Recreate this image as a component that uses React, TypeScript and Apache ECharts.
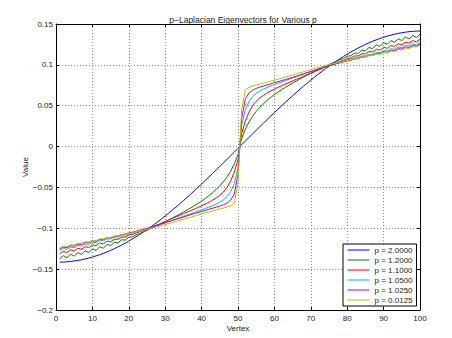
import React, { useEffect, useRef } from "react";
import * as echarts from "echarts";

const TITLE = "p\u2212Laplacian Eigenvectors for Various p";
const X_NAME = "Vertex";
const Y_NAME = "Value";
const SERIES_NAMES = ["p = 2.0000", "p = 1.2000", "p = 1.1000", "p = 1.0500", "p = 1.0250", "p = 0.0125"];
const COLORS = ["#0000ff", "#008000", "#ff0000", "#00bfbf", "#bf00bf", "#bfbf00"];
const X_MIN = 0, X_MAX = 100, X_STEP = 10;
const Y_MIN = -0.2, Y_MAX = 0.15, Y_STEP = 0.05;

const P_2_0000 = [
  -0.1414, -0.1413, -0.1410, -0.1406, -0.1400, -0.1393, -0.1385, -0.1375, -0.1364, -0.1352,
  -0.1338, -0.1323, -0.1307, -0.1289, -0.1270, -0.1250, -0.1228, -0.1206, -0.1182, -0.1157,
  -0.1131, -0.1104, -0.1075, -0.1046, -0.1016, -0.0984, -0.0952, -0.0918, -0.0884, -0.0849,
  -0.0813, -0.0776, -0.0739, -0.0701, -0.0662, -0.0622, -0.0582, -0.0541, -0.0500, -0.0458,
  -0.0416, -0.0373, -0.0330, -0.0287, -0.0243, -0.0199, -0.0155, -0.0111, -0.0067, -0.0022,
  0.0022, 0.0067, 0.0111, 0.0155, 0.0199, 0.0243, 0.0287, 0.0330, 0.0373, 0.0416,
  0.0458, 0.0500, 0.0541, 0.0582, 0.0622, 0.0662, 0.0701, 0.0739, 0.0776, 0.0813,
  0.0849, 0.0884, 0.0918, 0.0952, 0.0984, 0.1016, 0.1046, 0.1075, 0.1104, 0.1131,
  0.1157, 0.1182, 0.1206, 0.1228, 0.1250, 0.1270, 0.1289, 0.1307, 0.1323, 0.1338,
  0.1352, 0.1364, 0.1375, 0.1385, 0.1393, 0.1400, 0.1406, 0.1410, 0.1413, 0.1414,
];

const P_1_2000 = [
  -0.1375, -0.1334, -0.1360, -0.1317, -0.1341, -0.1297, -0.1320, -0.1275, -0.1297, -0.1251,
  -0.1272, -0.1225, -0.1245, -0.1198, -0.1213, -0.1171, -0.1180, -0.1141, -0.1144, -0.1110,
  -0.1107, -0.1077, -0.1067, -0.1041, -0.1025, -0.1004, -0.0983, -0.0962, -0.0940, -0.0918,
  -0.0896, -0.0873, -0.0850, -0.0826, -0.0802, -0.0777, -0.0751, -0.0724, -0.0696, -0.0667,
  -0.0636, -0.0602, -0.0565, -0.0525, -0.0480, -0.0430, -0.0370, -0.0300, -0.0210, -0.0100,
  0.0100, 0.0210, 0.0300, 0.0370, 0.0430, 0.0480, 0.0525, 0.0565, 0.0602, 0.0636,
  0.0667, 0.0696, 0.0724, 0.0751, 0.0777, 0.0802, 0.0826, 0.0850, 0.0873, 0.0896,
  0.0918, 0.0940, 0.0962, 0.0983, 0.1004, 0.1025, 0.1041, 0.1067, 0.1077, 0.1107,
  0.1110, 0.1144, 0.1141, 0.1180, 0.1171, 0.1213, 0.1198, 0.1245, 0.1225, 0.1272,
  0.1251, 0.1297, 0.1275, 0.1320, 0.1297, 0.1341, 0.1317, 0.1360, 0.1334, 0.1375,
];

const P_1_1000 = [
  -0.1313, -0.1283, -0.1296, -0.1265, -0.1277, -0.1245, -0.1257, -0.1225, -0.1236, -0.1203,
  -0.1214, -0.1180, -0.1190, -0.1157, -0.1164, -0.1134, -0.1136, -0.1110, -0.1108, -0.1083,
  -0.1077, -0.1055, -0.1044, -0.1025, -0.1009, -0.0991, -0.0973, -0.0955, -0.0936, -0.0917,
  -0.0898, -0.0879, -0.0860, -0.0841, -0.0822, -0.0803, -0.0784, -0.0765, -0.0745, -0.0725,
  -0.0704, -0.0681, -0.0656, -0.0628, -0.0595, -0.0555, -0.0500, -0.0420, -0.0310, -0.0160,
  0.0160, 0.0310, 0.0420, 0.0500, 0.0555, 0.0595, 0.0628, 0.0656, 0.0681, 0.0704,
  0.0725, 0.0745, 0.0765, 0.0784, 0.0803, 0.0822, 0.0841, 0.0860, 0.0879, 0.0898,
  0.0917, 0.0936, 0.0955, 0.0973, 0.0991, 0.1009, 0.1025, 0.1044, 0.1055, 0.1077,
  0.1083, 0.1108, 0.1110, 0.1136, 0.1134, 0.1164, 0.1157, 0.1190, 0.1180, 0.1214,
  0.1203, 0.1236, 0.1225, 0.1257, 0.1245, 0.1277, 0.1265, 0.1296, 0.1283, 0.1313,
];

const P_1_0500 = [
  -0.1273, -0.1249, -0.1256, -0.1231, -0.1238, -0.1212, -0.1218, -0.1192, -0.1198, -0.1171,
  -0.1176, -0.1149, -0.1152, -0.1130, -0.1131, -0.1111, -0.1107, -0.1091, -0.1084, -0.1070,
  -0.1059, -0.1047, -0.1035, -0.1022, -0.1009, -0.0995, -0.0981, -0.0966, -0.0951, -0.0935,
  -0.0919, -0.0903, -0.0887, -0.0871, -0.0855, -0.0839, -0.0823, -0.0807, -0.0791, -0.0775,
  -0.0758, -0.0741, -0.0723, -0.0703, -0.0680, -0.0650, -0.0610, -0.0550, -0.0450, -0.0260,
  0.0260, 0.0450, 0.0550, 0.0610, 0.0650, 0.0680, 0.0703, 0.0723, 0.0741, 0.0758,
  0.0775, 0.0791, 0.0807, 0.0823, 0.0839, 0.0855, 0.0871, 0.0887, 0.0903, 0.0919,
  0.0935, 0.0951, 0.0966, 0.0981, 0.0995, 0.1009, 0.1022, 0.1035, 0.1047, 0.1059,
  0.1070, 0.1084, 0.1091, 0.1107, 0.1111, 0.1131, 0.1130, 0.1152, 0.1149, 0.1176,
  0.1171, 0.1198, 0.1192, 0.1218, 0.1212, 0.1238, 0.1231, 0.1256, 0.1249, 0.1273,
];

const P_1_0250 = [
  -0.1254, -0.1231, -0.1236, -0.1213, -0.1218, -0.1194, -0.1198, -0.1174, -0.1178, -0.1154,
  -0.1158, -0.1135, -0.1137, -0.1116, -0.1115, -0.1097, -0.1094, -0.1078, -0.1070, -0.1057,
  -0.1047, -0.1036, -0.1024, -0.1012, -0.1000, -0.0987, -0.0974, -0.0960, -0.0946, -0.0932,
  -0.0918, -0.0904, -0.0890, -0.0876, -0.0862, -0.0848, -0.0834, -0.0820, -0.0807, -0.0794,
  -0.0781, -0.0768, -0.0755, -0.0742, -0.0728, -0.0712, -0.0690, -0.0655, -0.0580, -0.0340,
  0.0340, 0.0580, 0.0655, 0.0690, 0.0712, 0.0728, 0.0742, 0.0755, 0.0768, 0.0781,
  0.0794, 0.0807, 0.0820, 0.0834, 0.0848, 0.0862, 0.0876, 0.0890, 0.0904, 0.0918,
  0.0932, 0.0946, 0.0960, 0.0974, 0.0987, 0.1000, 0.1012, 0.1024, 0.1036, 0.1047,
  0.1057, 0.1070, 0.1078, 0.1094, 0.1097, 0.1115, 0.1116, 0.1137, 0.1135, 0.1158,
  0.1154, 0.1178, 0.1174, 0.1198, 0.1194, 0.1218, 0.1213, 0.1236, 0.1231, 0.1254,
];

const P_0_0125 = [
  -0.1240, -0.1219, -0.1222, -0.1201, -0.1204, -0.1183, -0.1186, -0.1165, -0.1168, -0.1147,
  -0.1150, -0.1130, -0.1131, -0.1113, -0.1112, -0.1096, -0.1092, -0.1079, -0.1073, -0.1062,
  -0.1053, -0.1043, -0.1033, -0.1023, -0.1013, -0.1002, -0.0991, -0.0979, -0.0967, -0.0955,
  -0.0942, -0.0929, -0.0916, -0.0903, -0.0890, -0.0877, -0.0864, -0.0851, -0.0838, -0.0825,
  -0.0812, -0.0800, -0.0788, -0.0776, -0.0764, -0.0752, -0.0740, -0.0725, -0.0690, -0.0450,
  0.0450, 0.0690, 0.0725, 0.0740, 0.0752, 0.0764, 0.0776, 0.0788, 0.0800, 0.0812,
  0.0825, 0.0838, 0.0851, 0.0864, 0.0877, 0.0890, 0.0903, 0.0916, 0.0929, 0.0942,
  0.0955, 0.0967, 0.0979, 0.0991, 0.1002, 0.1013, 0.1023, 0.1033, 0.1043, 0.1053,
  0.1062, 0.1073, 0.1079, 0.1092, 0.1096, 0.1112, 0.1113, 0.1131, 0.1130, 0.1150,
  0.1147, 0.1168, 0.1165, 0.1186, 0.1183, 0.1204, 0.1201, 0.1222, 0.1219, 0.1240,
];

const SERIES_VALUES = [P_2_0000, P_1_2000, P_1_1000, P_1_0500, P_1_0250, P_0_0125];

const FONT = "'Liberation Sans', Arial, Helvetica, sans-serif";
const TEXT_COLOR = "#1a1a1a";

const fmtY = (v: number) => {
  const a = Math.abs(v);
  if (a < 1e-9) return "0";
  const s = String(parseFloat(a.toFixed(2)));
  return v < 0 ? "\u2212" + s : s;
};

export default function App() {
  const ref = useRef<HTMLDivElement>(null);
  useEffect(() => {
    if (!ref.current) return;
    const chart = echarts.init(ref.current, null, { renderer: "svg" });
    const gridLine = { show: true, lineStyle: { color: "#8c8c8c", type: [1, 2] as any, width: 1 } };
    const axisLine = { show: true, onZero: false, lineStyle: { color: "#000", width: 1 } };
    const tick = { show: true, inside: true, length: 3, lineStyle: { color: "#000" } };
    chart.setOption({
      animation: false,
      backgroundColor: "#fff",
      title: {
        text: TITLE,
        left: 238,
        top: 10,
        textAlign: "center",
        textStyle: { fontSize: 8.5, fontWeight: "normal", color: TEXT_COLOR, fontFamily: FONT },
      },
      legend: {
        show: true,
        orient: "vertical",
        left: 343,
        top: 244,
        padding: [2, 4, 2, 4],
        itemWidth: 22,
        itemHeight: 8,
        itemGap: 2,
        backgroundColor: "#fff",
        borderColor: "#000",
        borderWidth: 1,
        borderRadius: 0,
        itemStyle: { opacity: 0 },
        lineStyle: { width: 1 },
        textStyle: { fontSize: 8, color: TEXT_COLOR, fontFamily: FONT },
        data: SERIES_NAMES,
      },
      grid: { left: 56, top: 24, width: 364, height: 286, containLabel: false },
      xAxis: [
        {
          type: "value",
          min: X_MIN,
          max: X_MAX,
          interval: X_STEP,
          position: "bottom",
          name: X_NAME,
          nameLocation: "middle",
          nameGap: 14,
          nameMoveOverlap: false,
          nameTextStyle: { fontSize: 8, color: TEXT_COLOR, fontFamily: FONT },
          axisLine,
          axisTick: tick,
          axisLabel: { fontSize: 8, color: TEXT_COLOR, fontFamily: FONT, margin: 4 },
          splitLine: gridLine,
        },
        {
          type: "value",
          min: X_MIN,
          max: X_MAX,
          interval: X_STEP,
          position: "top",
          axisLine,
          axisTick: tick,
          axisLabel: { show: false },
          splitLine: { show: false },
        },
      ],
      yAxis: [
        {
          type: "value",
          min: Y_MIN,
          max: Y_MAX,
          interval: Y_STEP,
          position: "left",
          name: Y_NAME,
          nameLocation: "middle",
          nameRotate: 90,
          nameGap: 27,
          nameMoveOverlap: false,
          nameTextStyle: { fontSize: 8, color: TEXT_COLOR, fontFamily: FONT },
          axisLine,
          axisTick: tick,
          axisLabel: { fontSize: 8, color: TEXT_COLOR, fontFamily: FONT, margin: 3, formatter: fmtY },
          splitLine: gridLine,
        },
        {
          type: "value",
          min: Y_MIN,
          max: Y_MAX,
          interval: Y_STEP,
          position: "right",
          axisLine,
          axisTick: tick,
          axisLabel: { show: false },
          splitLine: { show: false },
        },
      ],
      series: SERIES_VALUES.map((vals, k) => ({
        name: SERIES_NAMES[k],
        type: "line",
        xAxisIndex: 0,
        yAxisIndex: 0,
        symbol: "none",
        showSymbol: false,
        color: COLORS[k],
        lineStyle: { color: COLORS[k], width: 1 },
        data: vals.map((v, i) => [i + 1, v]),
      })),
    });
    return () => chart.dispose();
  }, []);
  return (
    <div
      ref={ref}
      style={{ position: "fixed", left: 0, top: 0, width: 452, height: 338, background: "#fff" }}
    />
  );
}
